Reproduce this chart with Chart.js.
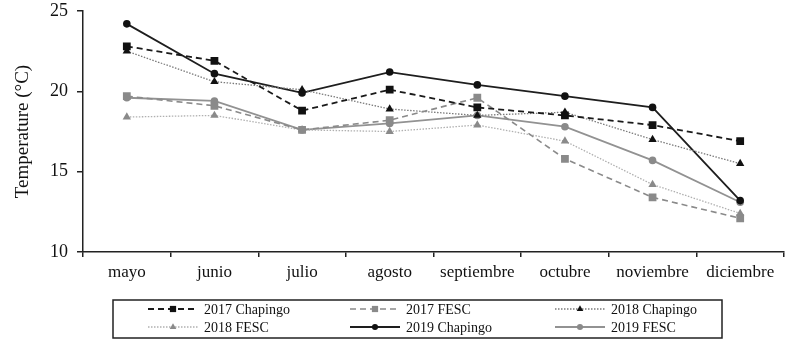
<!DOCTYPE html>
<html>
<head>
<meta charset="utf-8">
<script src="https://cdn.jsdelivr.net/npm/chart.js@4/dist/chart.umd.min.js"></script>
<style>
  html, body { margin: 0; padding: 0; background: #fff; }
  #wrap { width: 806px; height: 344px; }
</style>
</head>
<body>
<div id="wrap"><canvas id="chart" width="806" height="344"></canvas></div>
<script>
// months on the x axis
const months = ['mayo', 'junio', 'julio', 'agosto', 'septiembre', 'octubre', 'noviembre', 'diciembre'];

// monthly mean temperature (°C)
const chapingo2017 = [22.8, 21.9, 18.8, 20.1, 19.0, 18.5, 17.9, 16.9];
const fesc2017     = [19.7, 19.1, 17.6, 18.2, 19.6, 15.8, 13.4, 12.1];
const chapingo2018 = [22.5, 20.6, 20.1, 18.9, 18.5, 18.7, 17.0, 15.5];
const fesc2018     = [18.4, 18.5, 17.6, 17.5, 17.9, 16.9, 14.2, 12.4];
const chapingo2019 = [24.2, 21.1, 19.9, 21.2, 20.4, 19.7, 19.0, 13.2];
const fesc2019     = [19.6, 19.4, 17.6, 18.0, 18.5, 17.8, 15.7, 13.1];

const yTicks = [10, 15, 20, 25];

const serif = "'Liberation Serif', 'DejaVu Serif', serif";

function series(label, data, color, dash, width, pointStyle, pointColor, radius) {
    return {
        label: label,
        data: data,
        borderColor: color,
        borderDash: dash,
        borderWidth: width,
        pointStyle: pointStyle,
        pointBackgroundColor: pointColor,
        pointBorderColor: pointColor,
        pointBorderWidth: 0,
        pointRadius: radius,
        pointHoverRadius: radius,
        fill: false,
        tension: 0
    };
}

const datasets = [
    series('2017 Chapingo', chapingo2017, '#1a1a1a', [6, 4], 1.8, 'rect', '#111', 5.5),
    series('2017 FESC', fesc2017, '#8a8a8a', [6, 4], 1.6, 'rect', '#8a8a8a', 5.5),
    series('2018 Chapingo', chapingo2018, '#7a7a7a', [1.5, 1.5], 1.3, 'triangle', '#111', 4.8),
    series('2018 FESC', fesc2018, '#b0b0b0', [1.5, 1.5], 1.3, 'triangle', '#8a8a8a', 4.8),
    series('2019 Chapingo', chapingo2019, '#1e1e1e', [], 1.8, 'circle', '#111', 3.8),
    series('2019 FESC', fesc2019, '#929292', [], 1.8, 'circle', '#8a8a8a', 3.8)
];

// legend in a box under the chart: line sample with marker, then the label
const boxLegend = {
    id: 'boxLegend',
    afterDraw(chart) {
        const ctx = chart.ctx;
        const box = { x: 113, y: 300, w: 609, h: 38 };
        const cols = [148, 350, 555];
        const rows = [309, 327];
        const lineLen = 50;

        ctx.save();
        ctx.strokeStyle = '#222';
        ctx.lineWidth = 1.5;
        ctx.strokeRect(box.x, box.y, box.w, box.h);

        chart.data.datasets.forEach((ds, i) => {
            const x = cols[i % 3];
            const y = rows[Math.floor(i / 3)];
            ctx.save();
            ctx.strokeStyle = ds.borderColor;
            ctx.lineWidth = ds.borderWidth;
            ctx.setLineDash(ds.borderDash);
            ctx.beginPath();
            ctx.moveTo(x, y);
            ctx.lineTo(x + lineLen, y);
            ctx.stroke();
            ctx.setLineDash([]);
            ctx.fillStyle = ds.pointBackgroundColor;
            ctx.strokeStyle = ds.pointBackgroundColor;
            Chart.helpers.drawPoint(ctx, {
                pointStyle: ds.pointStyle,
                radius: ds.pointRadius * 0.8,
                rotation: 0,
                borderWidth: 0
            }, x + lineLen / 2, y);
            ctx.restore();

            ctx.fillStyle = '#111';
            ctx.font = '14px ' + serif;
            ctx.textBaseline = 'middle';
            ctx.textAlign = 'left';
            ctx.fillText(ds.label, x + lineLen + 6, y + 1);
        });
        ctx.restore();
    }
};

new Chart(document.getElementById('chart'), {
    type: 'line',
    data: { labels: months, datasets: datasets },
    plugins: [boxLegend],
    options: {
        responsive: false,
        animation: false,
        layout: { padding: { top: 11, right: 22, bottom: 60, left: 0 } },
        plugins: {
            legend: { display: false },
            tooltip: { enabled: false }
        },
        scales: {
            x: {
                offset: true,
                grid: {
                    display: true,
                    offset: true,
                    drawOnChartArea: false,
                    drawTicks: true,
                    tickLength: 5,
                    color: '#222',
                    lineWidth: 1.5
                },
                border: { display: true, color: '#222', width: 1.5 },
                ticks: {
                    color: '#111',
                    font: { family: serif, size: 17 },
                    padding: 5,
                    maxRotation: 0,
                    autoSkip: false
                },
                afterFit(scale) {
                    scale.height = 32;
                    scale.paddingLeft = 0;
                    scale.paddingRight = 0;
                }
            },
            y: {
                min: 10,
                max: 25,
                afterBuildTicks(scale) {
                    scale.ticks = yTicks.map(v => ({ value: v }));
                },
                grid: {
                    display: true,
                    drawOnChartArea: false,
                    drawTicks: true,
                    tickLength: 6,
                    color: '#222',
                    lineWidth: 1.5
                },
                border: { display: true, color: '#222', width: 1.5 },
                ticks: {
                    color: '#111',
                    font: { family: serif, size: 18 },
                    padding: 9
                },
                title: {
                    display: true,
                    text: 'Temperature (°C)',
                    color: '#111',
                    font: { family: serif, size: 19 },
                    padding: { top: 12, bottom: 0 }
                },
                afterFit(scale) {
                    scale.width = 83;
                    scale.paddingTop = 0;
                    scale.paddingBottom = 0;
                }
            }
        }
    }
});
</script>
</body>
</html>
